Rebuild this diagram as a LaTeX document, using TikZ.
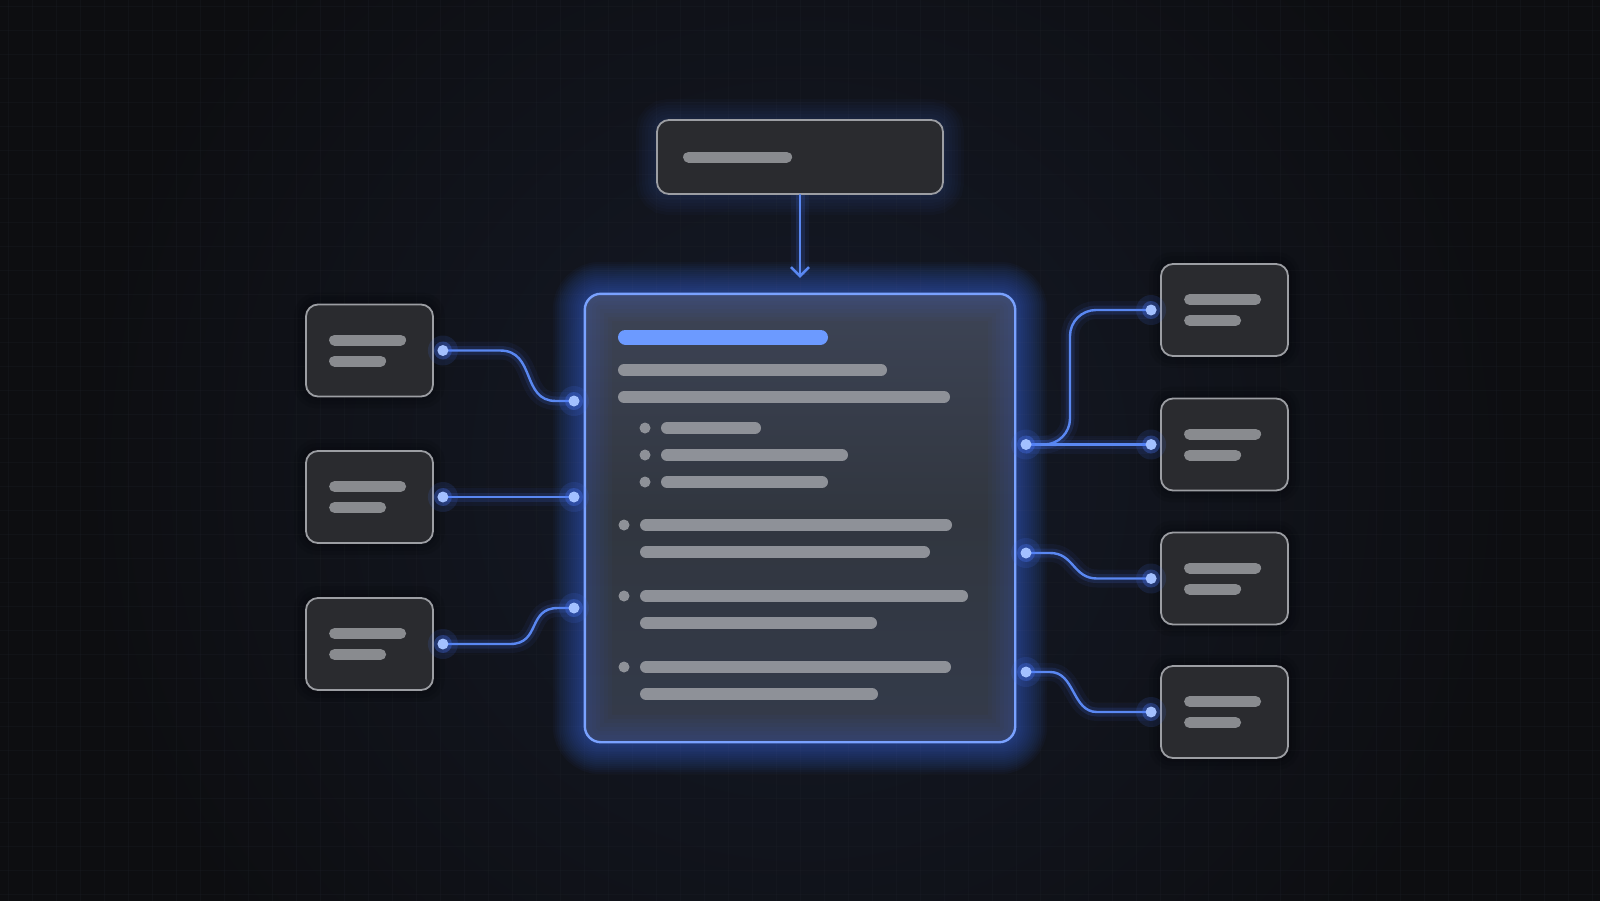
\documentclass[tikz,border=0pt]{standalone}
\usetikzlibrary{arrows.meta,calc}
\pgfdeclarelayer{bglayer}
\pgfsetlayers{bglayer,main}
\definecolor{bg}{HTML}{0D0E11}
\definecolor{haze}{HTML}{151A28}
\definecolor{gridc}{HTML}{1D2028}
\definecolor{glowc}{HTML}{4A78FF}
\definecolor{wirec}{HTML}{5A88F2}
\definecolor{dotc}{HTML}{A3C0FF}
\definecolor{cardfill}{HTML}{2A2B2F}
\definecolor{cardedge}{HTML}{9C9EA3}
\definecolor{barc}{HTML}{898B8F}
\definecolor{maintop}{HTML}{3D4456}
\definecolor{mainmid}{HTML}{31363F}
\definecolor{mainbot}{HTML}{343B4B}
\definecolor{mainedge}{HTML}{7AA2FF}
\definecolor{accent}{HTML}{6C9AFF}
\definecolor{mbarc}{HTML}{8E9198}
\tikzset{
  card/.style={draw=cardedge, line width=1.8, fill=cardfill, rounded corners=12,
    minimum width=127, minimum height=92, inner sep=0},
  topcard/.style={draw=cardedge, line width=1.8, fill=cardfill, rounded corners=12,
    minimum width=286, minimum height=74, inner sep=0},
  mainbox/.style={draw=none, rounded corners=16, minimum width=430, minimum height=448,
    inner sep=0, top color=maintop, bottom color=mainbot, middle color=mainmid},
  cardbar/.style={barc, line width=11, line cap=round},
  mainbar/.style={mbarc, line width=12, line cap=round},
  wire/.style={wirec, line width=2.4, line cap=round,
    preaction={draw, glowc, line width=18, opacity=0.06},
    preaction={draw, glowc, line width=9, opacity=0.14}},
}
\newcommand\cardlines[1]{%
  \draw[cardbar] ($(#1.west)+(29.5,-10.5)$) -- ++(66,0);
  \draw[cardbar] ($(#1.west)+(29.5,10.5)$) -- ++(46,0);}
\newcommand\pinmark[1]{%
  \fill[glowc, opacity=0.12] (#1) circle[radius=15];
  \fill[glowc, opacity=0.3] (#1) circle[radius=9];
  \fill[dotc] (#1) circle[radius=5.5];}
\begin{document}
\begin{tikzpicture}[x=1pt,y=-1pt]
\useasboundingbox (0,0) rectangle (1600,900);

% nodes
\node[card] (L1) at (369.5,350.5) {};
\node[card] (L2) at (369.5,497) {};
\node[card] (L3) at (369.5,644) {};
\node[card] (R1) at (1224.5,310) {};
\node[card] (R2) at (1224.5,444.5) {};
\node[card] (R3) at (1224.5,578.5) {};
\node[card] (R4) at (1224.5,712) {};
\node[topcard] (top) at (800,157) {};
\node[mainbox] (main) at (800,518) {};

% background layer
\begin{pgfonlayer}{bglayer}
  \fill[bg] (-20,-20) rectangle (1620,920);
  \begin{scope}
    \clip (-20,-20) rectangle (1620,920);
    \shade[inner color=haze, outer color=bg] (800,470) circle[radius=720];
  \end{scope}
  \foreach \x in {8,32,...,1600}
    \draw[gridc, line width=0.6, opacity=0.3] (\x,-20) -- (\x,920);
  \foreach \y in {6,30,...,900}
    \draw[gridc, line width=0.6, opacity=0.3] (-20,\y) -- (1620,\y);
  \foreach \w in {4,8,...,64}
    \draw[glowc, line width=\w, opacity=0.035, rounded corners=16]
      (main.north west) rectangle (main.south east);
  \foreach \w in {4,10,...,40}
    \draw[glowc, line width=\w, opacity=0.025, rounded corners=12]
      (top.north west) rectangle (top.south east);
  \foreach \n in {L1,L2,L3,R1,R2,R3,R4}
    \foreach \w in {6,14,22}
      \draw[black, line width=\w, opacity=0.08, rounded corners=12]
        (\n.north west) rectangle (\n.south east);
\end{pgfonlayer}

% inner glow of main box
\begin{scope}
  \clip[rounded corners=16] (main.north west) rectangle (main.south east);
  \foreach \w in {6,14,...,54}
    \draw[glowc, line width=\w, opacity=0.03, rounded corners=16]
      (main.north west) rectangle (main.south east);
\end{scope}
\draw[mainedge, line width=2.4, rounded corners=16] (main.north west) rectangle (main.south east);

% card contents
\foreach \n in {L1,L2,L3,R1,R2,R3,R4} {\cardlines{\n}}
\draw[cardbar] ($(top.west)+(32.5,0)$) -- ++(98,0);

% main box contents
\draw[accent, line width=15, line cap=round] (625.5,337) -- (820.5,337);
\draw[mainbar] (624,370) -- (881,370);
\draw[mainbar] (624,397) -- (944,397);
\foreach \y/\e in {428/755,455/842,482/822} {
  \fill[mbarc] (645,\y) circle[radius=5.5];
  \draw[mainbar] (667,\y) -- (\e,\y);
}
\foreach \y/\ea/\eb in {525/946/924, 596/962/871, 667/945/872} {
  \fill[mbarc] (624,\y) circle[radius=5.5];
  \draw[mainbar] (646,\y) -- (\ea,\y);
  \draw[mainbar] (646,\y+27) -- (\eb,\y+27);
}

% connector end points
\coordinate (cL1) at ($(L1.east)+(9,0)$);
\coordinate (cL2) at ($(L2.east)+(9,0)$);
\coordinate (cL3) at ($(L3.east)+(9,0)$);
\coordinate (cR1) at ($(R1.west)+(-9,0)$);
\coordinate (cR2) at ($(R2.west)+(-9,0)$);
\coordinate (cR3) at ($(R3.west)+(-9,0)$);
\coordinate (cR4) at ($(R4.west)+(-9,0)$);
\coordinate (mL1) at (574,401);
\coordinate (mL2) at (574,497);
\coordinate (mL3) at (574,608);
\coordinate (mR12) at (1026,444.5);
\coordinate (mR3) at (1026,553);
\coordinate (mR4) at (1026,672);

% connectors
\draw[wire] (cL1) -- (500,350.5) .. controls (536,350.5) and (521,401) .. (556,401) -- (mL1);
\draw[wire] (cL2) -- (mL2);
\draw[wire] (cL3) -- (510,644) .. controls (541,644) and (527,608) .. (558,608) -- (mL3);
\draw[wire, rounded corners=26] (mR12) -- (1070,444.5) -- (1070,310) -- (cR1);
\draw[wire] (mR12) -- (cR2);
\draw[wire] (mR3) -- (1050,553) .. controls (1074,553) and (1073,578.5) .. (1097,578.5) -- (cR3);
\draw[wire] (mR4) -- (1050,672) .. controls (1075,672) and (1072,712) .. (1097,712) -- (cR4);

\foreach \p in {cL1,cL2,cL3,cR1,cR2,cR3,cR4,mL1,mL2,mL3,mR12,mR3,mR4} {\pinmark{\p}}

% arrow
\draw[wire, -{Straight Barb[length=9pt,width=18pt,line width=2.4pt]}]
  (top.south) -- ($(main.north)+(0,-16)$);
\end{tikzpicture}
\end{document}
